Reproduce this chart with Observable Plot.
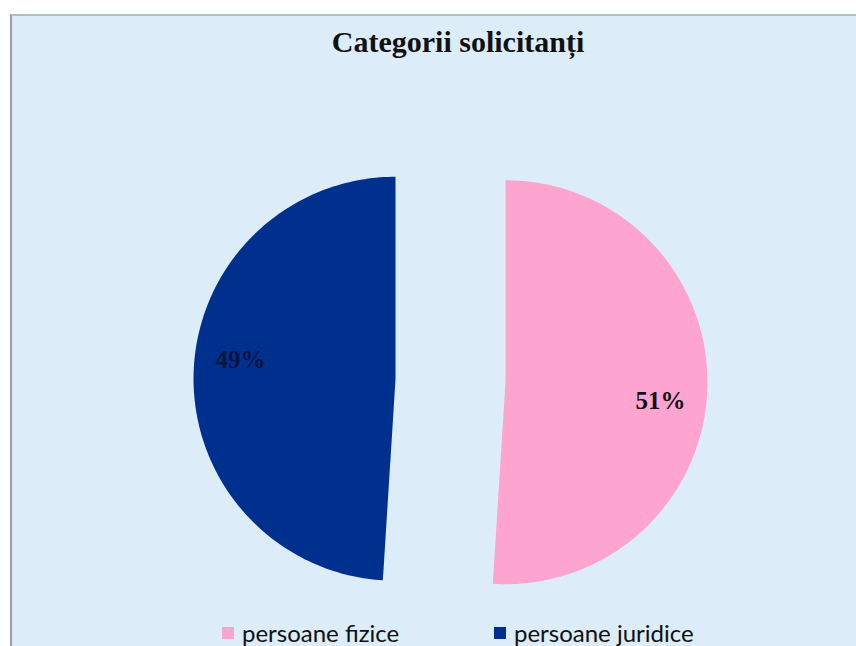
<!DOCTYPE html>
<html><head><meta charset="utf-8">
<script src="https://cdn.jsdelivr.net/npm/d3@7"></script>
<script src="https://cdn.jsdelivr.net/npm/@observablehq/plot@0.6"></script>
<style>
body{margin:0;background:#fff;}
#page{position:relative;width:856px;height:646px;overflow:hidden;background:#fff;}
#frame{position:absolute;left:10px;top:14px;right:0;bottom:0;background:#dcedf9;border-left:2px solid #9a9ea3;border-top:2px solid #b4bcc4;}
#title{position:absolute;top:25px;left:458px;transform:translateX(-50%);font-family:"Liberation Serif",serif;font-weight:bold;font-size:30px;color:#111;white-space:nowrap;}
#chart{position:absolute;left:0;top:100px;}
#legend{position:absolute;top:618px;left:0;width:856px;height:30px;font-family:Lato,"Open Sans",sans-serif;font-size:24px;color:#111;}
.item{position:absolute;top:0;display:flex;align-items:center;white-space:nowrap;}
.sw{width:12px;height:12px;margin-right:8px;display:inline-block;}
</style></head>
<body>
<div id="page">
  <div id="frame"></div>
  <div id="title">Categorii solicitanți</div>
  <div id="chart"></div>
  <div id="legend"></div>
</div>
<script>
const categories = ["persoane fizice", "persoane juridice"];
const values = [51, 49];
const labels = ["51%", "49%"];
const colors = ["#fda4d1", "#00308e"];
const labelColors = ["#111111", "#0d1440"];

const W = 856, H = 500, cx = 450, cy = 280, R = 202, explode = 55;
const labelR = 156, labelShift = 5 * Math.PI / 180;

const arcs = d3.pie().sort(null).value(d => d)(values);
const pts = [];
const labelData = [];
arcs.forEach((a, i) => {
  const cat = categories[i];
  const mid = (a.startAngle + a.endAngle) / 2;
  const ox = cx + explode * Math.sin(mid), oy = cy - explode * Math.cos(mid);
  pts.push({cat, x: ox, y: oy});
  const n = 160;
  for (let k = 0; k <= n; k++) {
    const t = a.startAngle + (a.endAngle - a.startAngle) * k / n;
    pts.push({cat, x: ox + R * Math.sin(t), y: oy - R * Math.cos(t)});
  }
  pts.push({cat, x: ox, y: oy});
  const la = mid + labelShift;
  labelData.push({text: labels[i], x: ox + labelR * Math.sin(la), y: oy - labelR * Math.cos(la), c: labelColors[i]});
});

const chart = Plot.plot({
  width: W, height: H,
  margin: 0,
  x: {domain: [0, W], range: [0, W], axis: null},
  y: {domain: [0, H], range: [0, H], axis: null},
  color: {domain: categories, range: colors},
  style: {background: "transparent", overflow: "visible"},
  marks: [
    Plot.line(pts, {x: "x", y: "y", z: "cat", fill: "cat", stroke: "none"}),
    Plot.text(labelData, {x: "x", y: "y", text: "text", fill: d => d.c, fontSize: 25, fontWeight: "bold", fontFamily: "Liberation Serif, serif"})
  ]
});
document.getElementById("chart").appendChild(chart);

const legendX = [222, 494];
const leg = document.getElementById("legend");
categories.forEach((c, i) => {
  const it = document.createElement("div");
  it.className = "item";
  it.style.left = legendX[i] + "px";
  it.innerHTML = `<span class="sw" style="background:${colors[i]}"></span><span>${c}</span>`;
  leg.appendChild(it);
});
</script>
</body></html>
